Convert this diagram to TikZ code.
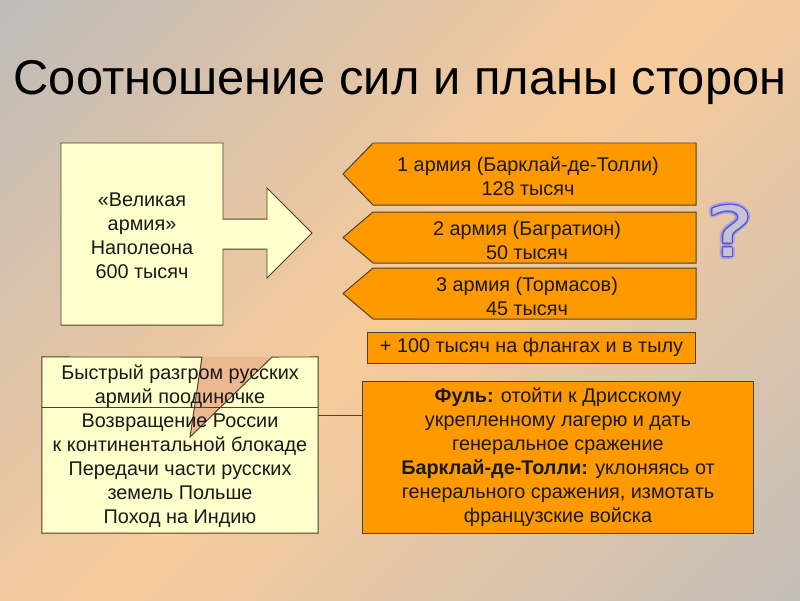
\documentclass[tikz,border=0pt]{standalone}
\usepackage{fontspec}
\setmainfont{Liberation Sans}
\newfontfamily\qfont{DejaVu Sans}
\definecolor{bgA}{RGB}{190,187,184}
\definecolor{bgB}{RGB}{248,203,155}
\definecolor{bgC}{RGB}{196,190,184}
\definecolor{yfill}{RGB}{255,255,204}
\definecolor{ofill}{RGB}{255,153,0}
\definecolor{edge}{RGB}{75,65,45}
\definecolor{notch}{RGB}{237,184,144}
\definecolor{qblue}{RGB}{85,85,205}
\definecolor{qglow}{RGB}{130,130,255}
\definecolor{qfill}{RGB}{200,194,214}
\definecolor{txt}{RGB}{25,25,25}
\pgfdeclarehorizontalshading{bgshade}{100bp}{color(0bp)=(bgA); color(14.6bp)=(bgA); color(50bp)=(bgB); color(85.4bp)=(bgC); color(100bp)=(bgC)}
\newcommand\bodyfs{\fontsize{14.1pt}{17.1pt}\selectfont}
\newcommand\qglyph{\scalebox{1.3}[1]{?}}
\tikzset{
  yshape/.style={fill=yfill, draw=edge, line width=0.7pt},
  oshape/.style={fill=ofill, draw=edge, line width=0.7pt},
  txtstyle/.style={font=\bodyfs, text=txt, align=center, inner sep=0pt},
  edgeline/.style={draw=edge, line width=0.7pt},
  qstyle/.style={font=\qfont\fontsize{49pt}{58pt}\selectfont, inner sep=0pt},
}
\begin{document}
\begin{tikzpicture}[x=0.025cm,y=-0.025cm]
\useasboundingbox (0,0) rectangle (800,600);
\shade[shading=bgshade, shading angle=-45] (0,0) rectangle (800,600);

\node[anchor=base, font=\fontsize{34.7pt}{40pt}\selectfont, text=black, inner sep=0pt] (title) at (400,94) {Соотношение сил и планы сторон};

% Napoleon block arrow
\draw[yshape] (61,143) -- (223,143) -- (223,219) -- (267,219) -- (267,188) -- (312,233) -- (267,278) -- (267,249) -- (223,249) -- (223,325) -- (61,325) -- cycle;
\node[txtstyle] (napoleon) at (142,236) {«Великая\\армия»\\Наполеона\\600 тысяч};

% Russian armies
\draw[oshape] (373,143) -- (696,143) -- (696,205) -- (373,205) -- (343,174) -- cycle;
\node[txtstyle] (army1) at (528,176) {1 армия (Барклай-де-Толли)\\128 тысяч};
\draw[oshape] (373,212) -- (696,212) -- (696,263) -- (373,263) -- (343,237.5) -- cycle;
\node[txtstyle] (army2) at (527,240) {2 армия (Багратион)\\50 тысяч};
\draw[oshape] (373,268) -- (696,268) -- (696,319) -- (373,319) -- (343,293.5) -- cycle;
\node[txtstyle] (army3) at (527,296) {3 армия (Тормасов)\\45 тысяч};

\node[oshape, txtstyle, minimum width=8.175cm, minimum height=0.775cm, outer sep=0pt] (flanks) at (531.5,347.5) {+ 100 тысяч на флангах и в тылу};

% Plans box
\node[oshape, txtstyle, minimum width=9.75cm, minimum height=3.775cm, outer sep=0pt] (plan) at (558,457.5) {\textbf{Фуль:} отойти к Дрисскому\\укрепленному лагерю и дать\\генеральное сражение\\\textbf{Барклай-де-Толли:} уклоняясь от\\генерального сражения, измотать\\французские войска};

% Napoleon goals box
\node[fill=yfill, minimum width=6.9cm, minimum height=4.4cm, inner sep=0pt, outer sep=0pt] (goals) at (180,445) {};
\fill[notch] (202,357) -- (272,357) -- (190,437) -- cycle;
\draw[edgeline] (202,357) -- (goals.north west) -- (goals.south west) -- (goals.south east) -- (goals.north east) -- (272,357);
\draw[edgeline] (202,357) -- (190,437) -- (272,357);
\draw[edgeline] (goals.west |- 0,407) -- (goals.east |- 0,407);
\node[txtstyle] (goalstext) at (180,446) {Быстрый разгром русских\\армий поодиночке\\Возвращение России\\к континентальной блокаде\\Передачи части русских\\земель Польше\\Поход на Индию};

\draw[edgeline] (goals.east) ++(0,-30) coordinate (c1) -- (c1 -| plan.west);

% Question mark
\foreach \a in {0,20,...,340} {
  \node[qstyle, text=qglow, opacity=0.2, xshift={2.4pt*cos(\a)}, yshift={2.4pt*sin(\a)}] (qg\a) at (730,231) {\qglyph};
}
\foreach \a in {0,30,...,330} {
  \node[qstyle, text=qblue, xshift={0.8pt*cos(\a)}, yshift={0.8pt*sin(\a)}] (qo\a) at (730,231) {\qglyph};
}
\node[qstyle, text=qfill] (qmark) at (730,231) {\qglyph};
\end{tikzpicture}
\end{document}
